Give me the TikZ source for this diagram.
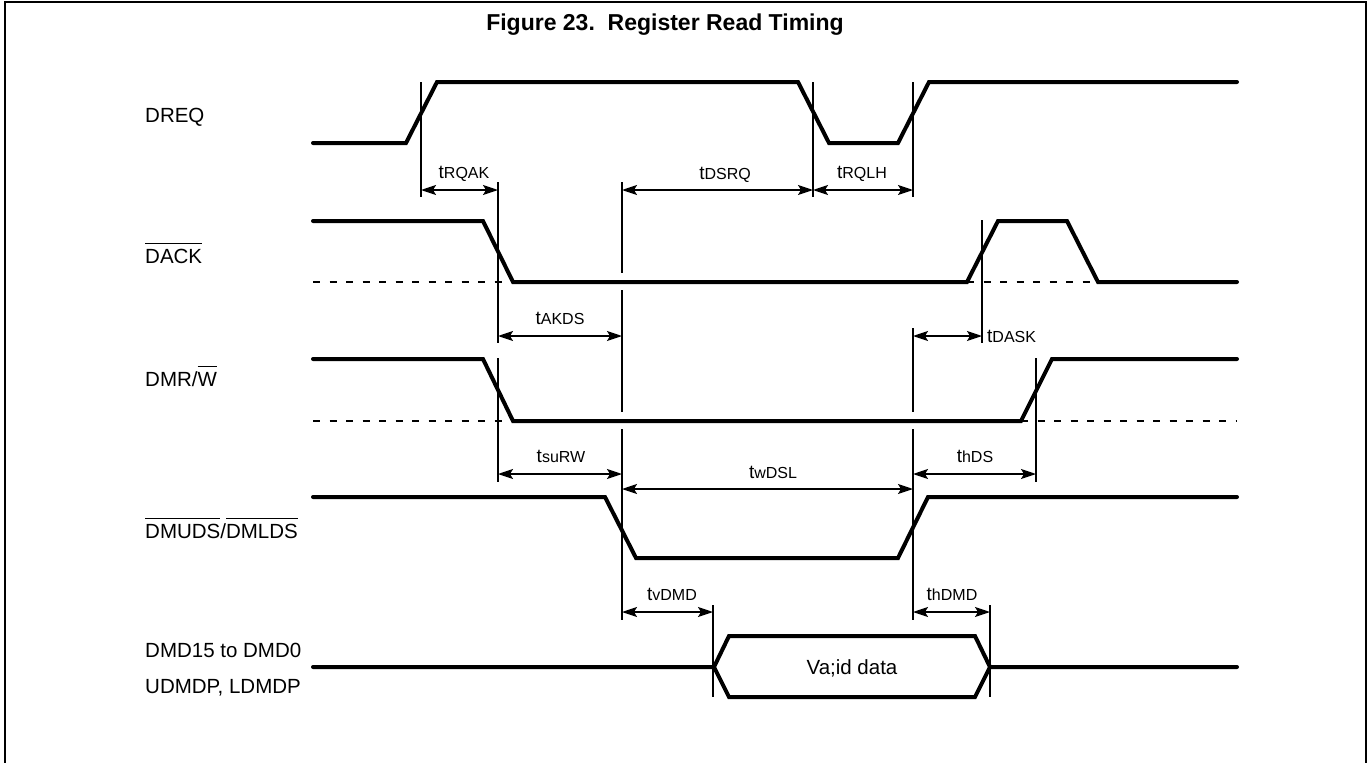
\documentclass[tikz,border=0pt]{standalone}
\usepackage{fontspec}
\setmainfont{Liberation Sans}
\usetikzlibrary{arrows.meta}
\newcommand\ovl[1]{\vbox{\hrule height 1.4pt\kern 4.5pt\hbox{#1}}}
\newcommand\tm[1]{{\fontsize{19}{21}\selectfont t}{\fontsize{16}{18}\selectfont #1}}
\begin{document}
\begin{tikzpicture}[x=1pt,y=-1pt,
  sig/.style={line width=4pt,line cap=round,line join=miter},
  refline/.style={line width=2pt},
  dsh/.style={line width=2.5pt,dash pattern=on 7pt off 9.5pt},
  dim/.style={line width=1.5pt,{Stealth[length=15pt,width=10pt,inset=3pt]}-{Stealth[length=15pt,width=10pt,inset=3pt]}},
  lbl/.style={anchor=base west,inner sep=0pt,font=\fontsize{20.5}{24}\selectfont},
  tlbl/.style={anchor=base,inner sep=0pt},
  tlblw/.style={anchor=base west,inner sep=0pt},
]
\useasboundingbox (0,0) rectangle (1369,763);
% frame
\draw[line width=2.5pt] (5,763) -- (5,2) -- (1366,2) -- (1366,763);
% title
\node[anchor=base,inner sep=0pt,font=\bfseries\fontsize{23}{27}\selectfont] (title) at (665,30) {Figure 23.\ \ Register Read Timing};
% signal names
\node[lbl] (dreq) at (145,122) {DREQ};
\node[lbl] (dack) at (145,263) {\ovl{DACK}};
\node[lbl] (dmrw) at (145,386) {DMR/\ovl{W}};
\node[lbl] (dmuds) at (145,538) {\ovl{DMUDS}/\ovl{DMLDS}};
\node[lbl] (dmd) at (145,657) {DMD15 to DMD0};
\node[lbl] (udmdp) at (145,693) {UDMDP, LDMDP};
% waveforms
\draw[sig] (313,143) -- (406,143) -- (437,82) -- (798,82) -- (829,143) -- (898,143) -- (929,82) -- (1237,82);
\draw[sig] (313,221) -- (483,221) -- (513,282) -- (967,282) -- (998,221) -- (1067,221) -- (1098,282) -- (1237,282);
\draw[dsh] (313,282) -- (513,282);
\draw[dsh] (967,282) -- (1098,282);
\draw[sig] (313,359) -- (483,359) -- (513,421) -- (1021,421) -- (1052,359) -- (1237,359);
\draw[dsh] (313,421) -- (513,421);
\draw[dsh] (1021,421) -- (1237,421);
\draw[sig] (313,497) -- (605,497) -- (636,558) -- (898,558) -- (928,497) -- (1237,497);
\draw[sig] (313,667) -- (714,667) -- (729,636) -- (975,636) -- (990,667) -- (1237,667);
\draw[sig] (714,667) -- (729,697) -- (975,697) -- (990,667);
\node[anchor=base,inner sep=0pt,font=\fontsize{20.5}{24}\selectfont] (valid) at (852,674) {Va;id data};
% reference lines
\draw[refline] (421,82) -- (421,197);
\draw[refline] (813,82) -- (813,197);
\draw[refline] (913,82) -- (913,197);
\draw[refline] (498,182) -- (498,343);
\draw[refline] (498,358) -- (498,482);
\draw[refline] (622,182) -- (622,273);
\draw[refline] (622,290) -- (622,412);
\draw[refline] (622,429) -- (622,620);
\draw[refline] (913,328) -- (913,412);
\draw[refline] (913,429) -- (913,620);
\draw[refline] (982,220) -- (982,343);
\draw[refline] (1036,358) -- (1036,482);
\draw[refline] (713,605) -- (713,697);
\draw[refline] (990,605) -- (990,697);
% dimension arrows
\draw[dim] (421,190) -- (498,190);
\draw[dim] (622,190) -- (813,190);
\draw[dim] (813,190) -- (913,190);
\draw[dim] (498,336) -- (622,336);
\draw[dim] (913,336) -- (982,336);
\draw[dim] (498,474) -- (622,474);
\draw[dim] (622,489) -- (913,489);
\draw[dim] (913,474) -- (1036,474);
\draw[dim] (622,612) -- (713,612);
\draw[dim] (913,612) -- (990,612);
% timing labels
\node[tlbl] (trqak) at (464,178) {\tm{RQAK}};
\node[tlbl] (tdsrq) at (725,179) {\tm{DSRQ}};
\node[tlbl] (trqlh) at (862,178) {\tm{RQLH}};
\node[tlbl] (takds) at (560,324) {\tm{AKDS}};
\node[tlblw] (tdask) at (987,342) {\tm{DASK}};
\node[tlbl] (tsurw) at (561,462) {\tm{suRW}};
\node[tlbl] (twdsl) at (773,478) {\tm{wDSL}};
\node[tlbl] (thds) at (975,462) {\tm{hDS}};
\node[tlbl] (tvdmd) at (672,600) {\tm{vDMD}};
\node[tlbl] (thdmd) at (952,600) {\tm{hDMD}};
\end{tikzpicture}
\end{document}
